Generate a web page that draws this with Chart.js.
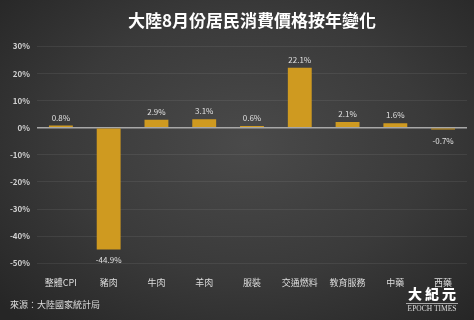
<!DOCTYPE html>
<html>
<head>
<meta charset="utf-8">
<script src="https://cdn.jsdelivr.net/npm/chart.js@4"></script>
<style>
  html, body { margin: 0; padding: 0; }
  body { width: 474px; height: 320px; overflow: hidden; }
  #wrap {
    position: relative; width: 474px; height: 320px;
    background: radial-gradient(ellipse 70% 75% at 52% 45%, #4a4a4a 0%, #3a3a3a 55%, #262626 100%);
  }
  #logo { position: absolute; left: 402px; top: 285px; width: 60px; text-align: center; color: #fff; }
  #logo .zh { font-family: "Noto Sans CJK TC", sans-serif; font-weight: 900; font-size: 14px; line-height: 16px; letter-spacing: 3px; padding-left: 3px; }
  #logo .en { font-family: "Liberation Serif", serif; font-size: 7.5px; line-height: 10px; color: #ddd; border-top: 1px solid #aaa; margin: 2px 4px 0; }
</style>
</head>
<body>
<div id="wrap">
  <canvas id="cpiChart" width="474" height="320"></canvas>
  <div id="logo"><div class="zh">大紀元</div><div class="en">EPOCH TIMES</div></div>
</div>
<script>
const categories = ["整體CPI", "豬肉", "牛肉", "羊肉", "服裝", "交通燃料", "教育服務", "中藥", "西藥"];
const changes = [0.8, -44.9, 2.9, 3.1, 0.6, 22.1, 2.1, 1.6, -0.7];
const yTicks = [30, 20, 10, 0, -10, -20, -30, -40, -50];

const CJK = '"Noto Sans CJK TC", "Noto Sans", sans-serif';

const valueLabels = {
  id: "valueLabels",
  afterDatasetsDraw(chart) {
    const ctx = chart.ctx;
    const meta = chart.getDatasetMeta(0);
    ctx.save();
    ctx.font = "8px " + CJK;
    ctx.fillStyle = "#e0e0e0";
    ctx.textAlign = "center";
    meta.data.forEach((bar, i) => {
      const v = changes[i];
      if (v >= 0) {
        ctx.textBaseline = "bottom";
        ctx.fillText(v + "%", bar.x, bar.y - 4);
      } else {
        ctx.textBaseline = "top";
        ctx.fillText(v + "%", bar.x, bar.y + 7);
      }
    });
    ctx.restore();
  },
};

new Chart(document.getElementById("cpiChart"), {
  type: "bar",
  data: {
    labels: categories,
    datasets: [
      {
        data: changes,
        backgroundColor: "#cf9a20",
        barPercentage: 0.5,
        categoryPercentage: 1,
      },
    ],
  },
  options: {
    responsive: false,
    animation: false,
    layout: { padding: { left: 10, right: 7, top: 0, bottom: 10 } },
    plugins: {
      legend: { display: false },
      tooltip: { enabled: false },
      title: {
        display: true,
        text: "大陸8月份居民消費價格按年變化",
        fullSize: false,
        color: "#ffffff",
        font: { family: CJK, size: 17, weight: "bold" },
        padding: { top: 10, bottom: 16 },
      },
      subtitle: {
        display: true,
        text: "來源：大陸國家統計局",
        position: "bottom",
        align: "start",
        color: "#dddddd",
        font: { family: CJK, size: 9 },
        padding: 0,
      },
    },
    scales: {
      x: {
        grid: { display: false },
        border: { display: false },
        ticks: { color: "#dddddd", font: { family: CJK, size: 9 }, padding: 6, maxRotation: 0 },
        afterFit(scale) { scale.height = 36; },
      },
      y: {
        min: -50,
        max: 30,
        afterBuildTicks(scale) { scale.ticks = yTicks.map((v) => ({ value: v })); },
        border: { display: false },
        grid: {
          drawTicks: false,
          color: (c) => (c.tick && c.tick.value === 0 ? "#a8a8a8" : "rgba(255,255,255,0.07)"),
          lineWidth: (c) => (c.tick && c.tick.value === 0 ? 1.5 : 1),
        },
        ticks: {
          color: "#d0d0d0",
          padding: 7,
          font: { family: CJK, size: 8, weight: "bold" },
          callback: (v) => v + "%",
        },
        afterFit(scale) { scale.width = 27; },
      },
    },
  },
  plugins: [valueLabels],
});
</script>
</body>
</html>
